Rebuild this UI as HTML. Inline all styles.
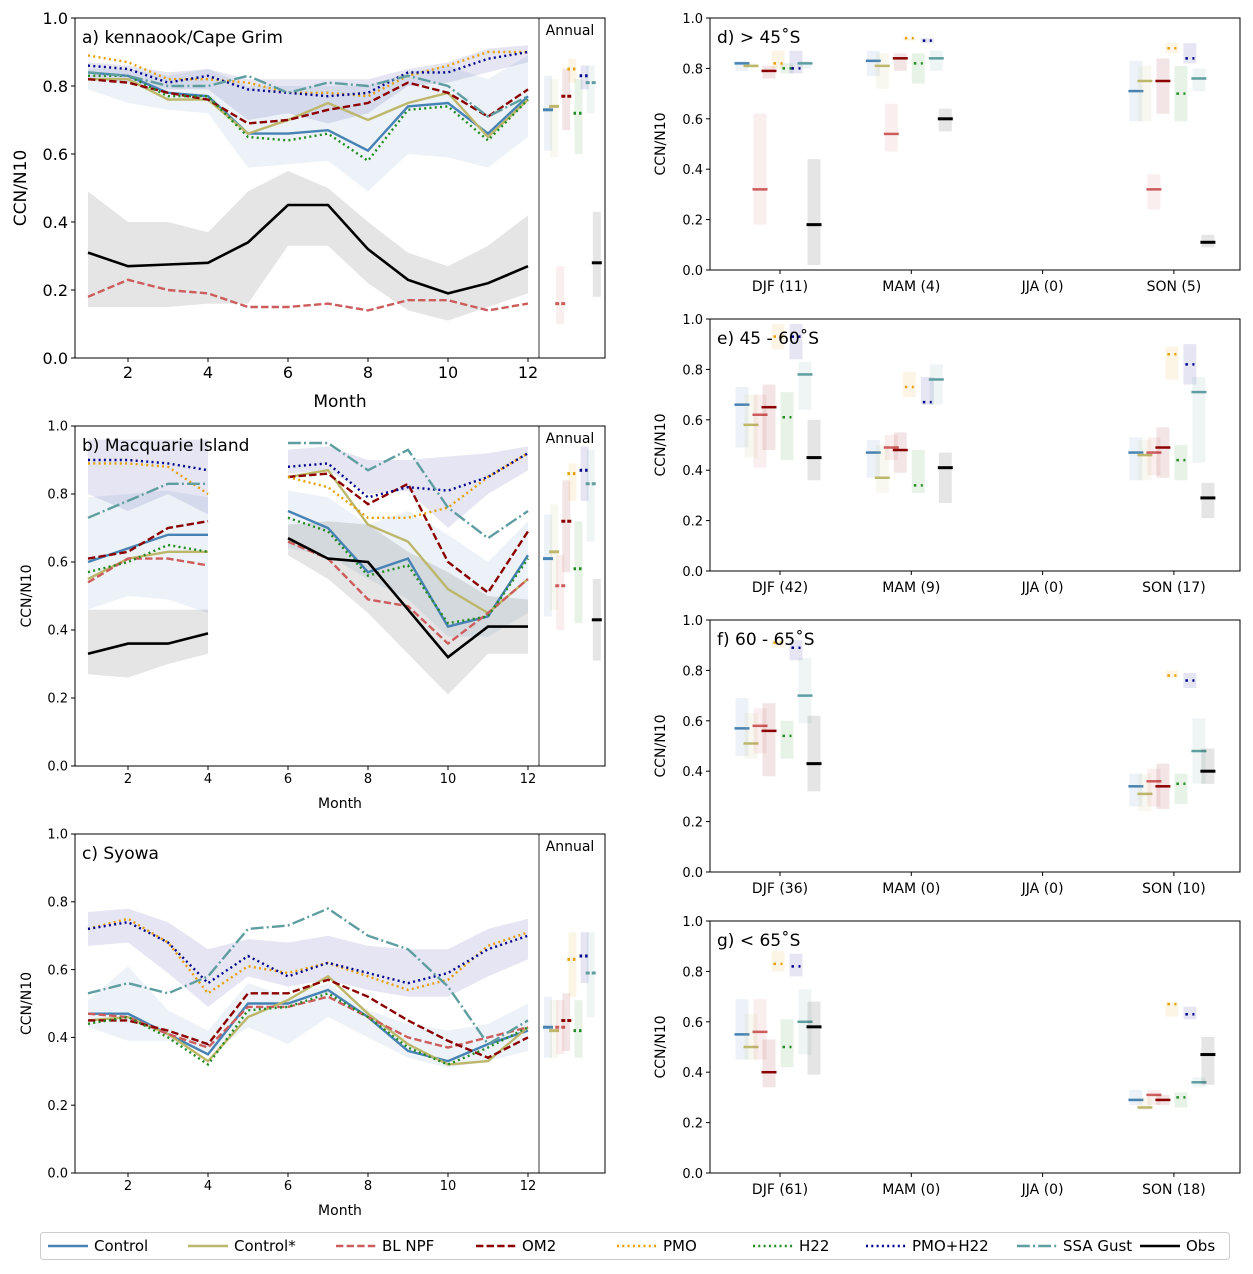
<!DOCTYPE html>
<html><head><meta charset="utf-8"><style>
body{margin:0;background:#fff;}
svg{display:block;font-family:"DejaVu Sans","Liberation Sans",sans-serif;}
</style></head><body>
<svg id="fig" width="1253" height="1274" viewBox="0 0 1253 1274"></svg>
<script>
// ---------- data ----------
const seriesNames = ["Control","Control*","BL NPF","OM2","PMO","H22","PMO+H22","SSA Gust","Obs"];
const months = [1,2,3,4,5,6,7,8,9,10,11,12];
const seasons = ["DJF","MAM","JJA","SON"];
// panel a
const aControl = [.84,.83,.78,.77,.66,.66,.67,.61,.74,.75,.66,.77];
const aControlS = [.82,.82,.76,.76,.66,.70,.75,.70,.75,.78,.65,.76];
const aBLNPF = [.18,.23,.20,.19,.15,.15,.16,.14,.17,.17,.14,.16];
const aOM2 = [.82,.81,.78,.76,.69,.70,.73,.75,.81,.78,.71,.79];
const aPMO = [.89,.87,.82,.82,.81,.78,.78,.77,.83,.86,.90,.90];
const aH22 = [.83,.83,.77,.77,.65,.64,.66,.58,.73,.74,.64,.76];
const aPMOH22 = [.86,.85,.81,.83,.79,.78,.77,.78,.84,.84,.88,.90];
const aSSA = [.84,.83,.80,.80,.83,.78,.81,.80,.83,.80,.71,.77];
const aObs = [.31,.27,.275,.28,.34,.45,.45,.32,.23,.19,.22,.27];
const aCtlLo = [.79,.75,.73,.72,.56,.57,.58,.49,.60,.59,.56,.65];
const aCtlHi = [.85,.85,.83,.85,.80,.80,.80,.80,.84,.86,.82,.89];
const aPHLo = [.82,.81,.79,.79,.70,.72,.69,.72,.80,.81,.84,.87];
const aPHHi = [.87,.86,.84,.85,.82,.82,.82,.82,.85,.87,.91,.92];
const aObsLo = [.15,.15,.15,.16,.16,.33,.33,.22,.14,.11,.15,.19];
const aObsHi = [.49,.40,.40,.37,.49,.55,.50,.40,.31,.27,.33,.42];
const aAnnMean = [.73,.74,.16,.77,.85,.72,.83,.81,.28];
const aAnnLo = [.61,.59,.10,.67,.81,.60,.79,.72,.18];
const aAnnHi = [.83,.82,.27,.85,.88,.82,.86,.86,.43];
// panel b (null = missing)
const bControl = [.60,.64,.68,.68,null,.75,.70,.57,.61,.41,.44,.62];
const bControlS = [.55,.61,.63,.63,null,.85,.87,.71,.66,.52,.45,.55];
const bBLNPF = [.54,.61,.61,.59,null,.66,.61,.49,.47,.36,.45,.55];
const bOM2 = [.61,.63,.70,.72,null,.85,.86,.77,.83,.60,.51,.69];
const bPMO = [.89,.89,.88,.80,null,.85,.82,.73,.73,.76,.85,.92];
const bH22 = [.57,.60,.65,.63,null,.73,.69,.56,.59,.42,.44,.61];
const bPMOH22 = [.90,.90,.89,.87,null,.88,.89,.79,.82,.81,.85,.92];
const bSSA = [.73,.78,.83,.83,null,.95,.95,.87,.93,.76,.67,.75];
const bObs = [.33,.36,.36,.39,null,.67,.61,.60,.46,.32,.41,.41];
const bCtlLo = [.46,.50,.49,.45,null,.64,.62,.55,.49,.38,.38,.45];
const bCtlHi = [.79,.80,.81,.79,null,.81,.79,.71,.75,.68,.60,.72];
const bPHLo = [.80,.75,.80,.74,null,.86,.87,.80,.81,.70,.80,.87];
const bPHHi = [.96,.96,.96,.96,null,.93,.94,.90,.90,.91,.92,.94];
const bObsLo = [.27,.26,.30,.33,null,.62,.55,.45,.33,.21,.33,.33];
const bObsHi = [.46,.46,.46,.46,null,.71,.72,.71,.63,.57,.50,.49];
const bAnnMean = [.61,.63,.53,.72,.86,.58,.87,.83,.43];
const bAnnLo = [.44,.46,.40,.57,.78,.42,.78,.66,.31];
const bAnnHi = [.74,.77,.62,.84,.89,.72,.94,.93,.55];
// panel c
const cControl = [.47,.47,.41,.35,.50,.50,.54,.46,.36,.33,.38,.42];
const cControlS = [.45,.46,.41,.33,.46,.51,.58,.47,.38,.32,.33,.43];
const cBLNPF = [.47,.46,.41,.37,.49,.49,.52,.46,.40,.37,.40,.43];
const cOM2 = [.45,.45,.42,.38,.53,.53,.57,.52,.45,.39,.34,.40];
const cPMO = [.72,.75,.68,.53,.61,.59,.62,.58,.54,.57,.67,.71];
const cH22 = [.44,.46,.40,.32,.48,.49,.53,.46,.37,.32,.37,.43];
const cPMOH22 = [.72,.74,.68,.56,.64,.58,.62,.59,.56,.59,.66,.70];
const cSSA = [.53,.56,.53,.58,.72,.73,.78,.70,.66,.55,.38,.45];
const cCtlLo = [.43,.39,.39,.35,.43,.38,.46,.40,.34,.31,.33,.36];
const cCtlHi = [.51,.61,.48,.42,.56,.52,.56,.48,.44,.42,.44,.50];
const cPHLo = [.67,.68,.59,.49,.58,.55,.57,.54,.52,.52,.58,.63];
const cPHHi = [.77,.78,.74,.66,.69,.68,.70,.67,.66,.66,.72,.75];
const cAnnMean = [.43,.42,.43,.45,.63,.42,.64,.59,null];
const cAnnLo = [.34,.34,.35,.36,.52,.34,.56,.46,null];
const cAnnHi = [.52,.51,.51,.53,.71,.51,.71,.71,null];
// right panels: [season][series]
const dMean = [[.82,.81,.32,.79,.82,.80,.80,.82,.18],[.83,.81,.54,.84,.92,.82,.91,.84,.60],null,[.71,.75,.32,.75,.88,.70,.84,.76,.11]];
const dLo = [[.79,.80,.18,.76,.80,.78,.78,.80,.02],[.77,.72,.47,.79,.91,.74,.90,.79,.55],null,[.59,.59,.24,.62,.86,.59,.82,.71,.09]];
const dHi = [[.83,.82,.62,.81,.87,.82,.87,.83,.44],[.87,.86,.66,.86,.92,.86,.92,.87,.64],null,[.83,.81,.38,.84,.90,.81,.90,.80,.14]];
const eMean = [[.66,.58,.62,.65,.93,.61,.93,.78,.45],[.47,.37,.49,.48,.73,.34,.67,.76,.41],null,[.47,.46,.47,.49,.86,.44,.82,.71,.29]];
const eLo = [[.49,.45,.41,.48,.88,.44,.84,.64,.36],[.37,.31,.44,.39,.69,.31,.66,.66,.27],null,[.36,.36,.38,.37,.76,.36,.74,.43,.21]];
const eHi = [[.73,.70,.70,.74,.98,.71,.98,.83,.60],[.52,.50,.54,.55,.79,.48,.77,.82,.47],null,[.53,.52,.53,.57,.89,.50,.90,.77,.35]];
const fMean = [[.57,.51,.58,.56,.91,.54,.89,.70,.43],null,null,[.34,.31,.36,.34,.78,.35,.76,.48,.40]];
const fLo = [[.46,.45,.47,.38,.89,.45,.84,.59,.32],null,null,[.26,.24,.26,.25,.77,.27,.73,.35,.35]];
const fHi = [[.69,.63,.65,.67,.92,.60,.92,.85,.62],null,null,[.39,.39,.41,.43,.80,.39,.79,.61,.49]];
const gMean = [[.55,.50,.56,.40,.83,.50,.82,.60,.58],null,null,[.29,.26,.31,.29,.67,.30,.63,.36,.47]];
const gLo = [[.45,.45,.45,.34,.80,.42,.78,.47,.39],null,null,[.27,.25,.27,.27,.62,.26,.61,.34,.35]];
const gHi = [[.69,.63,.69,.53,.88,.61,.87,.73,.68],null,null,[.33,.30,.33,.31,.68,.32,.66,.38,.54]];
const dCounts = [11,4,0,5], eCounts = [42,9,0,17], fCounts = [36,0,0,10], gCounts = [61,0,0,18];

// ---------- styles ----------
const COL = ["#4682b4","#bdb76b","#cd5c5c","#8b0000","#e69f00","#228b22","#00008b","#5f9ea0","#000000"];
const DASH = ["","","7.4,3.2","7.4,3.2","2,3.3","2,3.3","2,3.3","12.8,3.2,2,3.2",""];
const BANDCOL = COL;
const NS = "http://www.w3.org/2000/svg";
const svg = document.getElementById("fig");
function mk(tag, attrs, parent){ const e=document.createElementNS(NS,tag); for(const k in attrs) e.setAttribute(k,attrs[k]); (parent||svg).appendChild(e); return e; }
function txt(x,y,s,size,anchor,parent,extra){ const t=mk("text",Object.assign({x:x,y:y,"font-size":size,"text-anchor":anchor||"start",fill:"#000"},extra||{}),parent); t.textContent=s; return t; }

// ---------- monthly panels ----------
function monthlyPanel(id, top, bottom, title, lines, bands, ann, big, showXLabel){
  const L=75,R=605,DIV=539;
  const g=mk("g",{});
  
  
  const x=m=>88+(m-1)*40;
  const y=v=>bottom-(bottom-top)*v;
  bands.forEach(b=>{
    const segs=[];let cur=[];
    months.forEach((m,i)=>{ if(b.lo[i]==null){ if(cur.length) segs.push(cur); cur=[]; } else cur.push(i); });
    if(cur.length) segs.push(cur);
    segs.forEach(s=>{
      let d="M"+s.map(i=>x(months[i])+","+y(b.hi[i])).join("L")+"L"+s.slice().reverse().map(i=>x(months[i])+","+y(b.lo[i])).join("L")+"Z";
      const p=mk("path",{d:d,fill:b.col,"fill-opacity":b.op},g);
      
      
    });
  });
  lines.forEach(l=>{
    if(!l.v) return;
    let d="",pen=false;
    l.v.forEach((v,i)=>{ if(v==null){pen=false;return;} d+=(pen?"L":"M")+x(months[i])+","+y(v); pen=true; });
    const p=mk("path",{d:d,fill:"none",stroke:COL[l.s],"stroke-width":l.s==8?2.6:2.4,"stroke-dasharray":DASH[l.s]||"none"},g);
    
    
  });
  ann.mean.forEach((v,i)=>{
    if(v==null) return;
    const cx=548+i*6.1;
    const r=mk("rect",{x:cx-4,y:y(ann.hi[i]),width:8,height:y(ann.lo[i])-y(ann.hi[i]),fill:BANDCOL[i],"fill-opacity":0.1},g);
    
    
    const m=mk("line",{x1:cx-5,x2:cx+5,y1:y(v),y2:y(v),stroke:COL[i],"stroke-width":3,"stroke-dasharray":DASH[i]?(DASH[i]=="2,3.3"?"2.5,3":"4,2"):"none"},g);
    
    
  });
  mk("rect",{x:L,y:top,width:R-L,height:bottom-top,fill:"none",stroke:"#000","stroke-width":1},g);
  mk("line",{x1:DIV,x2:DIV,y1:top,y2:bottom,stroke:"#000","stroke-width":0.8},g);
  const tfs=big?16:13;
  [0,.2,.4,.6,.8,1].forEach(t=>{
    mk("line",{x1:L-4,x2:L,y1:y(t),y2:y(t),stroke:"#000"},g);
    txt(L-7,y(t)+tfs*0.36,t.toFixed(1),tfs,"end",g);
  });
  [2,4,6,8,10,12].forEach(m=>{
    mk("line",{x1:x(m),x2:x(m),y1:bottom,y2:bottom+4,stroke:"#000"},g);
    txt(x(m),bottom+4+tfs,String(m),tfs,"middle",g);
  });
  const yl=txt(0,0,"CCN/N10",big?17:14,"middle",g,{transform:`translate(${big?26:31},${(top+bottom)/2}) rotate(-90)`});
  
  
  if(showXLabel){
    const xl=txt(340,bottom+(big?49:42),"Month",big?17:14,"middle",g);
    
    
  }
  const tt=txt(82,top+25,title,17,"start",g);
  
  
  const an=txt(570,top+17,"Annual",14,"middle",g);
  
  
}
function bandset(cl,ch,pl,ph,ol,oh){
  const b=[{lo:cl,hi:ch,col:"#4682b4",op:0.1,name:"control"},{lo:pl,hi:ph,col:"#00008b",op:0.1,name:"pmo-h22"}];
  if(ol) b.push({lo:ol,hi:oh,col:"#000000",op:0.1,name:"obs"});
  return b;
}
monthlyPanel("a",18,358,"a) kennaook/Cape Grim",
  [{s:0,v:aControl},{s:1,v:aControlS},{s:2,v:aBLNPF},{s:3,v:aOM2},{s:4,v:aPMO},{s:5,v:aH22},{s:6,v:aPMOH22},{s:7,v:aSSA},{s:8,v:aObs}],
  bandset(aCtlLo,aCtlHi,aPHLo,aPHHi,aObsLo,aObsHi),{mean:aAnnMean,lo:aAnnLo,hi:aAnnHi},true,true);
monthlyPanel("b",426,766,"b) Macquarie Island",
  [{s:0,v:bControl},{s:1,v:bControlS},{s:2,v:bBLNPF},{s:3,v:bOM2},{s:4,v:bPMO},{s:5,v:bH22},{s:6,v:bPMOH22},{s:7,v:bSSA},{s:8,v:bObs}],
  bandset(bCtlLo,bCtlHi,bPHLo,bPHHi,bObsLo,bObsHi),{mean:bAnnMean,lo:bAnnLo,hi:bAnnHi},false,true);
monthlyPanel("c",834,1173,"c) Syowa",
  [{s:0,v:cControl},{s:1,v:cControlS},{s:2,v:cBLNPF},{s:3,v:cOM2},{s:4,v:cPMO},{s:5,v:cH22},{s:6,v:cPMOH22},{s:7,v:cSSA}],
  bandset(cCtlLo,cCtlHi,cPHLo,cPHHi),{mean:cAnnMean,lo:cAnnLo,hi:cAnnHi},false,true);

// ---------- seasonal panels ----------
function seasonPanel(id, top, bottom, title, mean, lo, hi, counts){
  const L=710,R=1240;
  const g=mk("g",{});
  
  
  const x=i=>780+i*131.3;
  const y=v=>bottom-(bottom-top)*v;
  seasons.forEach((s,si)=>{
    if(!mean[si]) return;
    mean[si].forEach((v,k)=>{
      const cx=x(si)-38+k*9;
      const r=mk("rect",{x:cx-6.5,y:y(hi[si][k]),width:13,height:y(lo[si][k])-y(hi[si][k]),fill:BANDCOL[k],"fill-opacity":0.1},g);
      
      
      const isDot=DASH[k]=="2,3.3";
      const w=isDot?9:15;
      const m=mk("line",{x1:cx-w/2,x2:cx+w/2,y1:y(v),y2:y(v),stroke:COL[k],"stroke-width":k==8?3:2.5,"stroke-dasharray":isDot?"2.5,4.5":"none"},g);
      
      
    });
  });
  mk("rect",{x:L,y:top,width:R-L,height:bottom-top,fill:"none",stroke:"#000","stroke-width":1},g);
  [0,.2,.4,.6,.8,1].forEach(t=>{
    mk("line",{x1:L-4,x2:L,y1:y(t),y2:y(t),stroke:"#000"},g);
    txt(L-7,y(t)+5,t.toFixed(1),13,"end",g);
  });
  seasons.forEach((s,si)=>{
    mk("line",{x1:x(si),x2:x(si),y1:bottom,y2:bottom+4,stroke:"#000"},g);
    const tl=txt(x(si),bottom+21,s+" ("+counts[si]+")",14,"middle",g);
    
    
  });
  const yl=txt(0,0,"CCN/N10",14,"middle",g,{transform:`translate(665,${(top+bottom)/2}) rotate(-90)`});
  
  
  const tt=txt(717,top+25,title,17,"start",g);
  
  
}
seasonPanel("d",18,270,"d) > 45˚S",dMean,dLo,dHi,dCounts);
seasonPanel("e",319,571,"e) 45 - 60˚S",eMean,eLo,eHi,eCounts);
seasonPanel("f",620,872,"f) 60 - 65˚S",fMean,fLo,fHi,fCounts);
seasonPanel("g",921,1173,"g) < 65˚S",gMean,gLo,gHi,gCounts);

// ---------- legend ----------
const lg=mk("g",{});


mk("rect",{x:40.5,y:1232.5,width:1189,height:27,rx:3,fill:"#fff",stroke:"#ccc"},lg);
const legX=[48,188,336,476,617,753,866,1017,1140];
seriesNames.forEach((n,i)=>{
  const e=mk("g",{},lg);
  
  
  mk("line",{x1:legX[i],x2:legX[i]+40,y1:1246,y2:1246,stroke:COL[i],"stroke-width":2.4,"stroke-dasharray":DASH[i]||"none"},e);
  txt(legX[i]+46,1251,n,15,"start",e);
});
</script>
</body></html>
